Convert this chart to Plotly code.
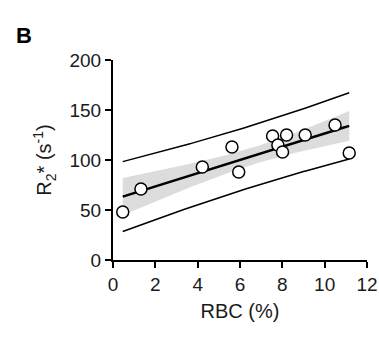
import numpy as np
import plotly.graph_objects as go

# Data
rbc = [0.46, 1.32, 4.22, 5.62, 5.94, 7.54, 7.79, 8.20, 8.01, 9.08, 10.49, 11.16]
r2star = [48, 71, 93, 113, 88, 124, 115, 125, 108, 125, 135, 107]
x_ticks = [0, 2, 4, 6, 8, 10, 12]
y_ticks = [0, 50, 100, 150, 200]

x = np.array(rbc)
y = np.array(r2star)
n = len(x)
slope, intercept = np.polyfit(x, y, 1)
resid = y - (slope * x + intercept)
s = np.sqrt(np.sum(resid**2) / (n - 2))
t = 2.228  # t(0.975, df=10)
xm = x.mean()
sxx = np.sum((x - xm) ** 2)
xs = np.linspace(x.min(), x.max(), 100)
yf = slope * xs + intercept
ci = t * s * np.sqrt(1 / n + (xs - xm) ** 2 / sxx)
pi = t * s * np.sqrt(1 + 1 / n + (xs - xm) ** 2 / sxx)

fig = go.Figure()
fig.add_trace(go.Scatter(x=np.concatenate([xs, xs[::-1]]),
                         y=np.concatenate([yf + ci, (yf - ci)[::-1]]),
                         fill="toself", fillcolor="#dcdcdc", line=dict(width=0),
                         hoverinfo="skip", showlegend=False))
fig.add_trace(go.Scatter(x=xs, y=yf + pi, mode="lines", line=dict(color="black", width=1.5), showlegend=False))
fig.add_trace(go.Scatter(x=xs, y=yf - pi, mode="lines", line=dict(color="black", width=1.5), showlegend=False))
fig.add_trace(go.Scatter(x=xs, y=yf, mode="lines", line=dict(color="black", width=2.5), showlegend=False))
fig.add_trace(go.Scatter(x=rbc, y=r2star, mode="markers",
                         marker=dict(size=12, color="white", line=dict(color="black", width=1.5)),
                         showlegend=False, cliponaxis=False))

font = "Liberation Sans, Arial, sans-serif"
fig.update_layout(
    width=379, height=338,
    margin=dict(l=113, r=12, t=60, b=78),
    paper_bgcolor="white", plot_bgcolor="white",
    font=dict(family=font, size=19, color="#1a1a1a"),
    xaxis=dict(range=[0, 12], tickvals=x_ticks, showgrid=False, zeroline=False, automargin=False,
               showline=True, linecolor="black", linewidth=2, ticks="outside", ticklen=6,
               tickwidth=2, tickcolor="black", ticklabeloverflow="allow",
               title=dict(text="RBC (%)", standoff=10, font=dict(size=20))),
    yaxis=dict(range=[0, 200], tickvals=y_ticks, showgrid=False, zeroline=False, automargin=False,
               showline=True, linecolor="black", linewidth=2, ticks="outside", ticklen=6,
               tickwidth=2, tickcolor="black", ticklabeloverflow="allow",
               title=dict(text="R<sub>2</sub>* (s<sup>-1</sup>)", standoff=12, font=dict(size=20))),
    annotations=[dict(text="<b>B</b>", xref="paper", yref="paper", x=-113/254 + 14/254, y=1 + 24/200,
                      xanchor="left", yanchor="middle", showarrow=False,
                      font=dict(size=22, color="black"))],
)
fig.write_html("out.html", config={"displayModeBar": False},
               post_script="document.body.style.margin='0';document.body.style.overflow='hidden';")
